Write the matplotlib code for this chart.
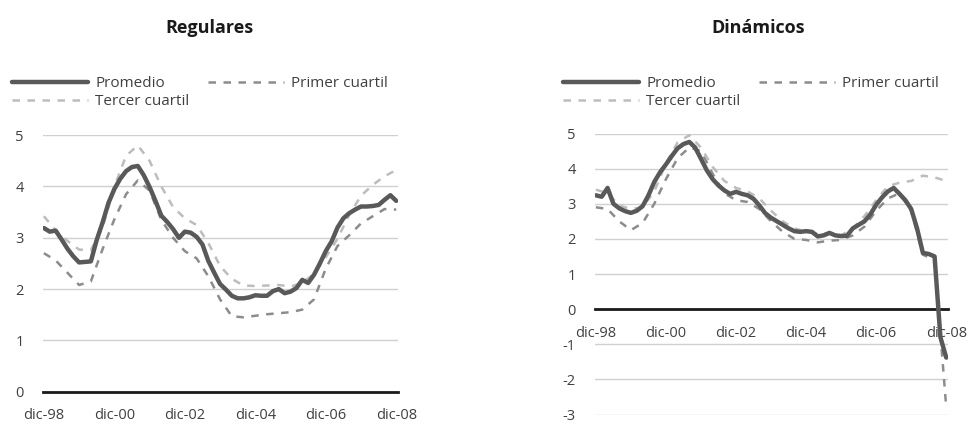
import numpy as np
import matplotlib
matplotlib.use('Agg')
import matplotlib.pyplot as plt

plt.rcParams['font.family'] = ['Open Sans', 'DejaVu Sans']
plt.rcParams['axes.unicode_minus'] = False

# months counted from dic-98, promedio every 2 months, quartiles every 4 months
months2 = np.arange(0, 121, 2)
months4 = np.arange(0, 121, 4)
tick_months = [0, 24, 48, 72, 96, 120]
tick_labels = ['dic-98', 'dic-00', 'dic-02', 'dic-04', 'dic-06', 'dic-08']

reg_promedio = [3.19, 3.12, 3.14, 2.97, 2.79, 2.64, 2.52, 2.53, 2.54, 2.96,
                3.30, 3.68, 3.95, 4.15, 4.30, 4.38, 4.40, 4.22, 3.99, 3.72,
                3.43, 3.31, 3.17, 3.00, 3.12, 3.10, 3.02, 2.87, 2.55, 2.32,
                2.10, 1.99, 1.87, 1.82, 1.82, 1.84, 1.88, 1.87, 1.87, 1.96,
                2.00, 1.92, 1.95, 2.02, 2.18, 2.12, 2.28, 2.50, 2.74, 2.93,
                3.20, 3.38, 3.48, 3.55, 3.61, 3.61, 3.62, 3.64, 3.74, 3.83,
                3.72]
reg_primer = [2.70, 2.56, 2.32, 2.08, 2.15, 2.78, 3.36, 3.85, 4.12, 3.92,
              3.35, 3.00, 2.74, 2.60, 2.25, 1.80, 1.47, 1.45, 1.48, 1.51,
              1.53, 1.55, 1.60, 1.80, 2.40, 2.84, 3.05, 3.28, 3.42, 3.56,
              3.55]
reg_tercer = [3.42, 3.15, 2.94, 2.77, 2.76, 3.20, 4.00, 4.60, 4.80, 4.50,
              4.00, 3.60, 3.38, 3.25, 2.90, 2.45, 2.20, 2.07, 2.06, 2.07,
              2.08, 2.05, 2.12, 2.30, 2.62, 2.98, 3.45, 3.82, 4.03, 4.20,
              4.32]

din_promedio = [3.24, 3.20, 3.45, 3.00, 2.87, 2.79, 2.74, 2.80, 2.93, 3.24,
                3.62, 3.90, 4.12, 4.36, 4.58, 4.70, 4.76, 4.60, 4.28, 3.95,
                3.70, 3.52, 3.38, 3.28, 3.34, 3.28, 3.24, 3.14, 2.95, 2.73,
                2.60, 2.50, 2.40, 2.30, 2.22, 2.20, 2.22, 2.20, 2.07, 2.10,
                2.17, 2.10, 2.08, 2.09, 2.30, 2.40, 2.50, 2.70, 2.97, 3.18,
                3.35, 3.45, 3.28, 3.10, 2.85, 2.30, 1.60, 1.57, 1.50, -0.80,
                -1.38]
din_primer = [2.90, 2.85, 2.50, 2.25, 2.45, 3.00, 3.70, 4.30, 4.60, 4.50,
              3.85, 3.30, 3.10, 3.05, 2.85, 2.50, 2.20, 2.00, 1.97, 1.90,
              1.95, 1.97, 2.10, 2.35, 2.80, 3.15, 3.30, 2.80, 1.55, 1.40,
              -2.80]
din_tercer = [3.40, 3.30, 2.95, 2.85, 2.90, 3.35, 4.15, 4.75, 4.95, 4.60,
              4.05, 3.65, 3.45, 3.35, 3.15, 2.80, 2.50, 2.30, 2.20, 2.15,
              2.15, 2.10, 2.30, 2.65, 3.10, 3.50, 3.60, 3.65, 3.80, 3.75,
              3.65]

c_prom = '#595959'
c_primer = '#8c8c8c'
c_tercer = '#bdbdbd'

fig = plt.figure(figsize=(9.72, 4.25), dpi=100)
W, H = 972, 425


def make_axes(x0, x1, y_top, y_bot):
    return fig.add_axes([x0 / W, 1 - y_bot / H, (x1 - x0) / W, (y_bot - y_top) / H])


def draw_panel(ax, prom, primer, tercer, ylim, title, title_x, leg_x):
    ax.set_xlim(-0.3, 120.6)
    ax.set_ylim(*ylim)
    ax.set_yticks(range(ylim[0], ylim[1] + 1))
    ax.grid(axis='y', color='#d0d0d0', linewidth=1.0)
    ax.set_axisbelow(True)
    for s in ['top', 'right', 'left']:
        ax.spines[s].set_visible(False)
    ax.spines['bottom'].set_position(('data', 0))
    ax.spines['bottom'].set_color('#1a1a1a')
    ax.spines['bottom'].set_linewidth(2.0)
    ax.spines['bottom'].set_zorder(1)
    ax.set_xticks(tick_months)
    ax.set_xticklabels(tick_labels)
    ax.tick_params(axis='x', length=0, pad=12, labelsize=10.5, labelcolor='#404040')
    ax.tick_params(axis='y', length=0, pad=14, labelsize=10.5, labelcolor='#404040')
    for t in ax.get_yticklabels():
        t.set_verticalalignment('center_baseline')

    l1, = ax.plot(months2, prom, color=c_prom, linewidth=3.2, solid_capstyle='round',
                  label='Promedio', zorder=3)
    l2, = ax.plot(months4, primer, color=c_primer, linewidth=1.8, dashes=(3, 3),
                  label='Primer cuartil', zorder=2)
    l3, = ax.plot(months4, tercer, color=c_tercer, linewidth=1.8, dashes=(3, 3),
                  label='Tercer cuartil', zorder=2)

    fig.text(title_x / W, 1 - 28 / H, title, ha='center', va='center',
             fontsize=13, fontweight='bold', color='#1a1a1a')
    fig.legend([l1, l3, l2], ['Promedio', 'Tercer cuartil', 'Primer cuartil'],
               loc='upper left', bbox_to_anchor=(leg_x / W, 1 - 76 / H),
               ncol=2, frameon=False, borderpad=0, borderaxespad=0,
               handlelength=5.0, handletextpad=0.45, columnspacing=1.2,
               labelspacing=0.2, prop={'size': 11}, labelcolor='#404040')


ax1 = make_axes(43, 398, 135.2, 391.7)
draw_panel(ax1, reg_promedio, reg_primer, reg_tercer, (0, 5), 'Regulares', 209, 12)

ax2 = make_axes(595, 948, 133.5, 414.5)
draw_panel(ax2, din_promedio, din_primer, din_tercer, (-3, 5), 'Dinámicos', 758, 563)

fig.savefig('out.png', dpi=100)
